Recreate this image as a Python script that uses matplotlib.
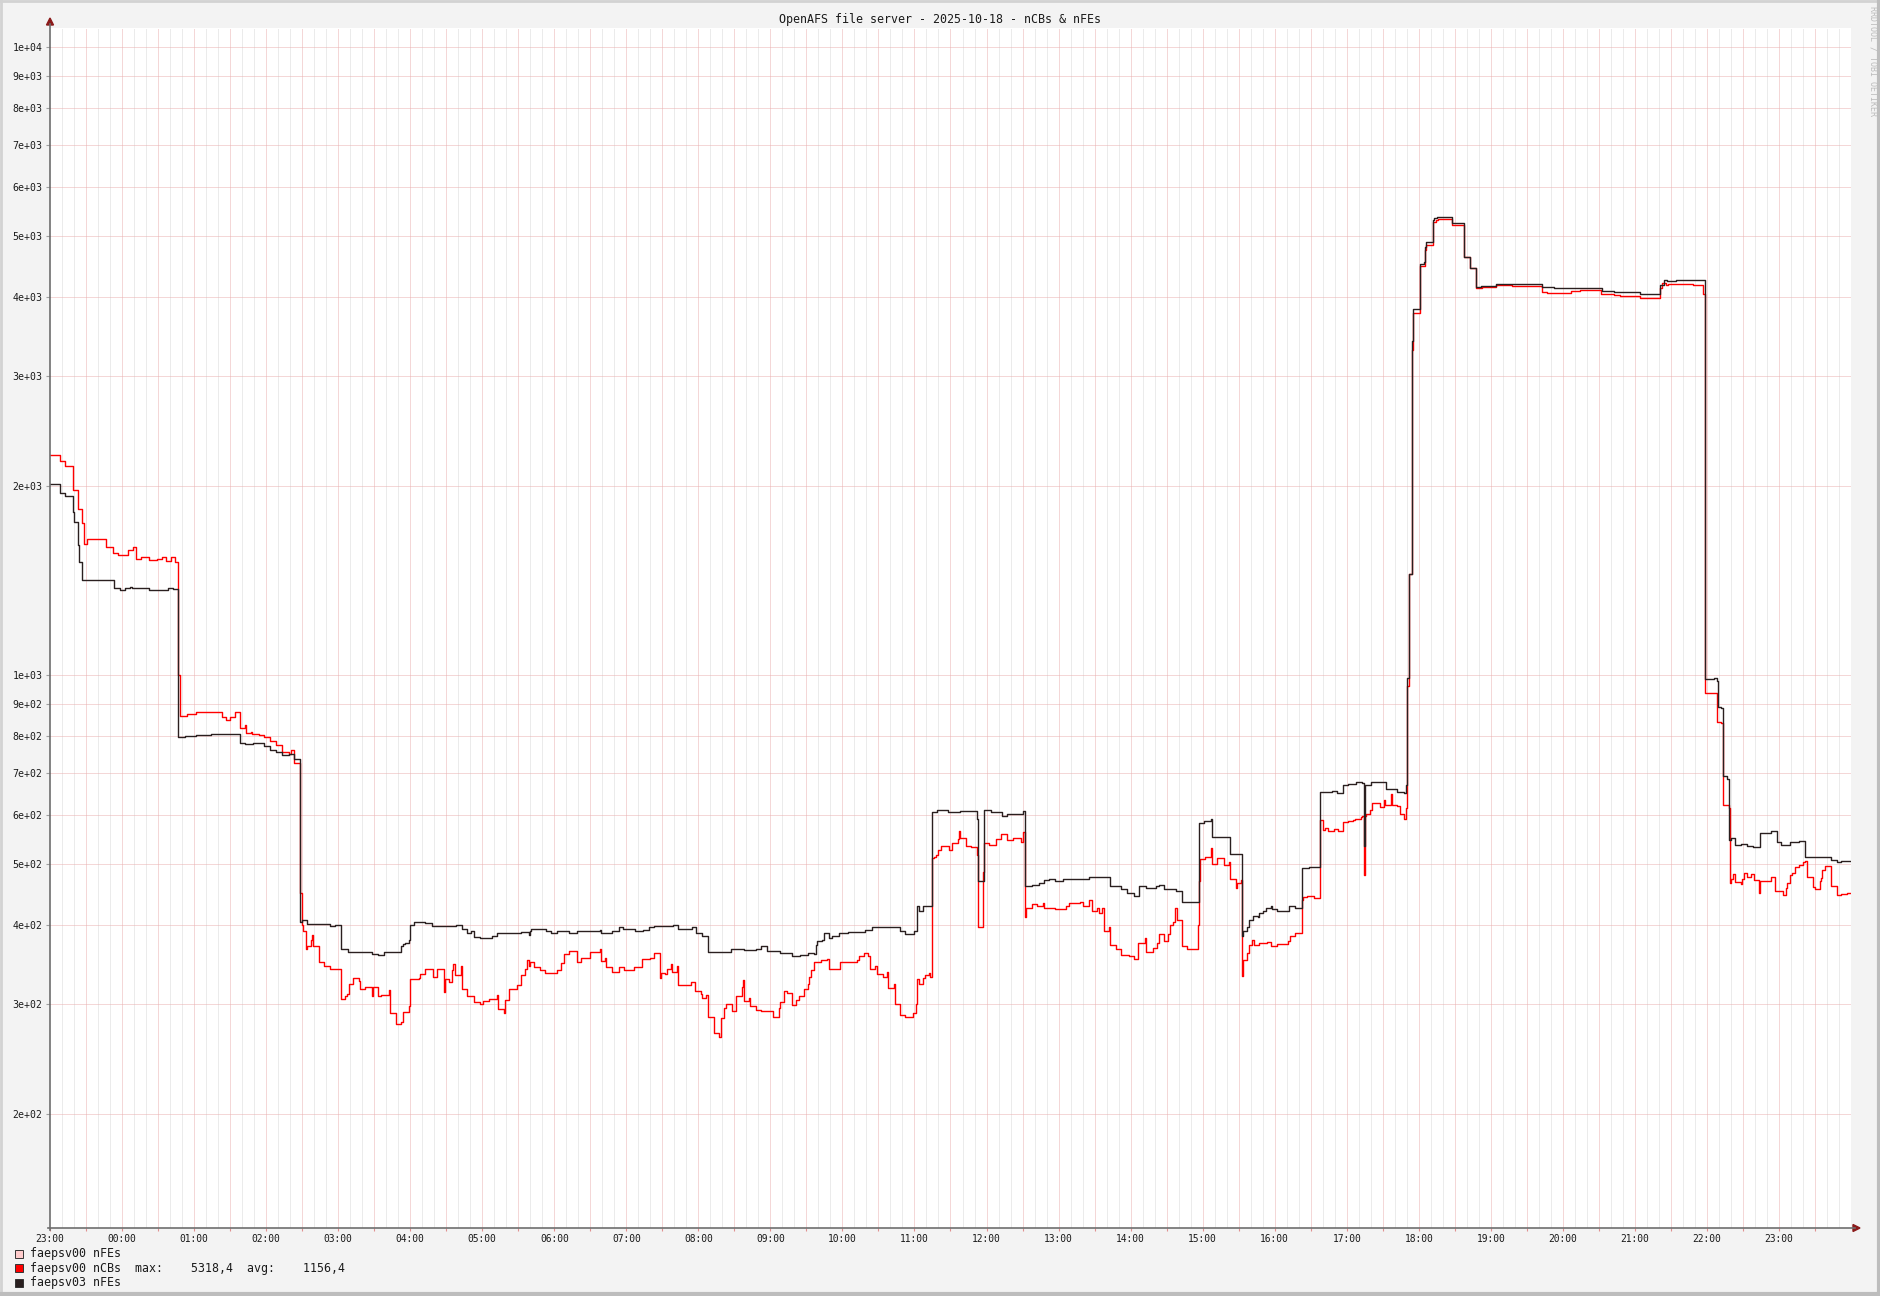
import matplotlib
matplotlib.use('Agg')
import matplotlib.pyplot as plt
from matplotlib.patches import Rectangle, Polygon
from matplotlib.lines import Line2D
import numpy as np

# ---------------- data (minutes after 23:00 of the previous day, value) ----------------
title = "OpenAFS file server - 2025-10-18 - nCBs & nFEs"

ncbs_sv00 = [(0,2240),(8,2195),(12.5,2153),(19,1972),(23.6,1840),(27,1748),(28,1617),(31,1646),(47,1602),
 (52.5,1566),(57,1555),(65,1582),(69,1600),(72,1530),(76,1545),(82.5,1526),(89,1532),(93,1545),(97,1522),
 (101,1545),(104,1513),(107,1000),(108,862),(114,867),(122,873),(129,875),(133,873),(143,857),(147,849),
 (150,857),(154,873),(158,823),(162,834),(163,808),(167,811),(168,806),(174,803),(178,798),(183,787),
 (188,775),(193,754),(199,749),(201,759),(203,724),(208,450),(210,400),(211,392),(213,366),(214,370),
 (217,379),(218,386),(219,371),(224,350),(228,344),(233,341),(242,305),(246,308),(247,311),(249,322),
 (252,329),(257,326),(258,316),(262,319),(268,309),(269,319),(273,308),(276,310),(282,315),(283,290),
 (288,278),(292,281),(294,291),(299,297),(300,328),(307,330),(308,334),(312,341),(319,331),(322,341),
 (328,313),(329,328),(332,325),(335,340),(336,347),(337,333),(342,345),(343,317),(347,308),(353,302),
 (358,300),(361,303),(366,305),(372,310),(373,294),(378,290),(379,304),(382,317),(389,321),(392,333),
 (396,341),(397,352),(399,345),(400,349),(403,343),(408,340),(412,336),(422,340),(426,348),(428,360),
 (432,364),(439,350),(442,355),(450,363),(458,367),(459,351),(462,355),(463,343),(468,337),(474,343),
 (478,340),(486,343),(493,354),(500,355),(503,361),(508,329),(509,336),(512,334),(514,341),(517,347),
 (518,337),(522,345),(523,321),(534,325),(537,314),(542,311),(543,306),(546,310),(548,286),(553,269),
 (557,265),(559,285),(561,295),(563,300),(568,292),(571,309),(576,319),(577,327),(578,303),(582,306),
 (583,297),(588,293),(592,292),(602,286),(607,295),(608,302),(611,314),(614,312),(618,299),(621,304),
 (624,308),(628,317),(631,323),(632,331),(634,340),(636,349),(639,350),(642,352),(647,354),(649,341),
 (658,350),(672,352),(674,357),(678,361),(681,357),(683,341),(687,345),(689,334),(694,331),(697,337),
 (698,318),(703,323),(704,300),(708,288),(712,286),(719,290),(721,300),(722,328),(724,322),(727,329),
 (729,333),(732,336),(733,331),(735,511),(736,514),(738,517),(740,527),(742,535),(749,526),(751,540),
 (756,548),(757,565),(758,550),(763,535),(767,533),(772,517),(773,398),(777,487),(778,540),(782,537),
 (788,548),(792,558),(797,546),(802,550),(809,542),(810,562),(812,412),(813,426),(818,432),(822,429),
 (827,434),(828,426),(837,424),(846,429),(849,434),(858,436),(860,429),(865,438),(868,421),(872,426),
 (874,418),(876,426),(878,391),(882,398),(883,372),(888,367),(892,359),(899,357),(903,353),(906,375),
 (912,382),(913,363),(919,368),(922,375),(924,387),(928,378),(931,387),(933,400),(935,405),(937,426),
 (939,408),(943,371),(947,366),(956,400),(957,470),(958,509),(962,514),(967,530),(968,500),(972,511),
 (978,499),(982,504),(983,474),(988,458),(989,467),(992,472),(993,332),(994,352),(997,361),(999,372),
 (1001,379),(1003,372),(1007,375),(1014,376),(1017,370),(1022,374),(1031,378),(1033,385),(1037,389),
 (1043,438),(1044,443),(1047,445),(1053,442),(1058,588),(1060,567),(1062,572),(1064,566),(1069,569),
 (1073,564),(1077,583),(1081,586),(1085,588),(1087,591),(1092,594),(1093,597),(1094,480),(1095,596),
 (1096,601),(1099,610),(1101,625),(1104,627),(1108,618),(1111,633),(1112,622),(1117,647),(1118,622),
 (1122,620),(1124,602),(1128,591),(1129,614),(1130,960),(1132,1450),(1134,3300),(1135,3773),(1141,4480),
 (1145,4750),(1146,4840),(1152,5265),(1154,5310),(1156,5318),(1168,5210),(1178,4634),(1183,4448),
 (1188,4135),(1193,4150),(1204,4180),(1218,4160),(1243,4080),(1247,4060),(1267,4085),(1274,4100),
 (1282,4110),(1292,4045),(1303,4030),(1308,4015),(1324,3990),(1341,4130),(1343,4215),(1346,4175),
 (1348,4200),(1368,4185),(1377,4045),(1378,938),(1388,844),(1392,839),(1393,622),(1398,614),(1399,467),
 (1400,474),(1402,483),(1403,468),(1408,465),(1409,474),(1411,485),(1413,478),(1417,483),(1419,472),
 (1423,450),(1424,471),(1433,477),(1437,453),(1443,447),(1446,458),(1447,467),(1449,481),(1451,485),
 (1453,495),(1457,499),(1460,504),(1462,506),(1463,477),(1468,460),(1470,456),(1474,471),(1475,475),
 (1476,490),(1478,497),(1483,462),(1488,447),(1492,449),(1497,450)]

nfes_sv03 = [(0,2017),(8,1948),(12.5,1930),(19,1820),(20,1757),(23.6,1612),(24.5,1517),(27,1418),(53,1378),
 (58,1366),(62.5,1376),(67,1382),(68,1377),(82.5,1366),(98.5,1377),(102.5,1370),(107,796),(112.5,800),
 (122,804),(134,806),(158,779),(162.5,777),(169,781),(172,780),(178,772),(183,759),(186,761),(188,754),
 (193,746),(199,749),(203,737),(208,405),(210,408),(214,402),(233,399),(237.5,401),(242,366),(248,363),
 (253,362),(268,360),(273,358),(278,363),(292,370),(294,373),(296,375),(299,379),(300,400),(303,405),
 (307,404),(312,403),(318,399),(338,401),(343,394),(347,389),(351,391),(353,383),(358,382),(368,384),
 (372,389),(392,390),(399,386),(400,391),(401,394),(413,391),(417,389),(422,391),(432,389),(439,391),
 (458,393),(459,389),(468,391),(474,397),(477,395),(487,392),(494,393),(499,397),(503,399),(519,400),
 (523,394),(535,398),(538,389),(543,385),(548,363),(557,362),(567,367),(578,365),(588,367),(592,370),
 (597,364),(608,361),(618,357),(625,358),(631,361),(636,360),(638,372),(639,377),(643,379),(645,389),
 (649,382),(651,385),(657,389),(665,390),(679,393),(685,398),(708,391),(712,387),(720,391),(722,429),
 (724,422),(727,429),(735,606),(739,610),(748,605),(758,608),(772,590),(773,470),(778,610),(784,606),
 (793,596),(797,602),(810,608),(812,462),(818,464),(824,467),(828,472),(832,474),(837,470),(844,474),
 (865,477),(883,461),(892,456),(897,450),(903,445),(907,462),(913,458),(921,461),(924,463),(928,456),
 (938,453),(943,435),(957,581),(961,586),(967,590),(968,553),(973,552),(983,520),(993,385),(994,391),
 (997,398),(999,408),(1002,414),(1006,412),(1007,418),(1010,422),(1013,426),(1017,429),(1018,424),
 (1022,421),(1032,429),(1037,426),(1043,493),(1049,495),(1058,653),(1068,655),(1072,649),(1077,669),
 (1081,671),(1088,675),(1093,673),(1094,534),(1095,669),(1100,676),(1113,658),(1122,653),(1128,649),
 (1129,669),(1130,990),(1132,1450),(1134,3400),(1135,3829),(1141,4515),(1144,4554),(1145,4812),
 (1146,4900),(1152,5300),(1153,5350),(1155,5370),(1168,5245),(1178,4634),(1183,4448),(1188,4145),
 (1192,4160),(1204,4197),(1243,4145),(1253,4135),(1293,4095),(1303,4080),(1324,4045),(1341,4175),
 (1344,4255),(1347,4245),(1354,4255),(1378,985),(1386,989),(1388,980),(1389,891),(1392,888),(1393,692),
 (1397,683),(1398,547),(1400,550),(1403,537),(1408,539),(1413,535),(1418,532),(1424,561),(1433,566),
 (1438,543),(1442,537),(1449,543),(1457,544),(1462,513),(1483,508),(1488,504),(1492,506),(1497,506)]

end_minute = 1499
hour_labels = ["23:00","00:00","01:00","02:00","03:00","04:00","05:00","06:00","07:00","08:00",
               "09:00","10:00","11:00","12:00","13:00","14:00","15:00","16:00","17:00","18:00",
               "19:00","20:00","21:00","22:00","23:00"]
y_grid_values = [200,300,400,500,600,700,800,900,1000,2000,3000,4000,5000,6000,7000,8000,9000,10000]
legend_rows = [("faepsv00 nFEs", "#ffcccc"),
               ("faepsv00 nCBs  max:    5318,4  avg:    1156,4", "#ff0000"),
               ("faepsv03 nFEs", "#2a1f1f")]

# ---------------- figure ----------------
MONO = 'DejaVu Sans Mono'
W, H = 1881, 1296
fig = plt.figure(figsize=(W/100, H/100), dpi=100, facecolor='#f3f3f3')
L, R, T, B = 50, 1851, 28, 1228
ax = fig.add_axes([L/W, 1-B/H, (R-L)/W, (B-T)/H])
ax.set_facecolor('white')
ax.set_yscale('log')
ax.set_xlim(0, 1500)
ax.set_ylim(131.8, 10730)

def fx(x): return x / W
def fy(y): return 1 - y / H

# grid
for m in range(10, 1500, 10):
    if m % 30 == 0:
        ax.axvline(m, color='#eab0b0', lw=0.72, ls=(0, (1, 1)), zorder=1)
    else:
        ax.axvline(m, color='#d8d8d8', lw=0.72, ls=(0, (1, 1)), zorder=0.5)
for v in y_grid_values:
    ax.axhline(v, color='#eab0b0', lw=0.72, ls=(0, (1, 1)), zorder=1)

# series
def step_series(pairs):
    t = [p[0] for p in pairs] + [end_minute]
    v = [p[1] for p in pairs] + [pairs[-1][1]]
    return t, v

t, v = step_series(ncbs_sv00)
ax.plot(t, v, drawstyle='steps-post', color='#ff0000', lw=1.0, zorder=3)
t, v = step_series(nfes_sv03)
ax.plot(t, v, drawstyle='steps-post', color='#2a1f1f', lw=1.0, zorder=4)

# ticks
ax.set_yticks(y_grid_values)
ax.set_yticklabels([f"{v:.0e}" for v in y_grid_values], family=MONO, fontsize=7.1, color='#1a1a1a')
ax.yaxis.set_minor_locator(matplotlib.ticker.NullLocator())
ax.tick_params(axis='y', length=3, width=0.8, color='#a0a0a0', pad=2.2)
ax.set_xticks(range(0, 1441, 60))
ax.set_xticklabels(hour_labels, family=MONO, fontsize=6.9, color='#1a1a1a')
ax.set_xticks(range(30, 1500, 60), minor=True)
ax.tick_params(axis='x', which='both', length=2, width=0.8, color='#e09090', pad=2.5)
for s in ax.spines.values():
    s.set_visible(False)

# axes with arrows
axis_col = '#6e6e6e'
fig.add_artist(Line2D([fx(L), fx(L)], [fy(B + 2), fy(24)], color=axis_col, lw=1.2))
fig.add_artist(Line2D([fx(L - 2), fx(1855)], [fy(B), fy(B)], color=axis_col, lw=1.2))
fig.add_artist(Polygon([[fx(L), fy(18)], [fx(L - 3.5), fy(25)], [fx(L + 3.5), fy(25)]],
                       closed=True, color='#8b1a1a', transform=fig.transFigure))
fig.add_artist(Polygon([[fx(1860), fy(B)], [fx(1853), fy(B - 3.5)], [fx(1853), fy(B + 3.5)]],
                       closed=True, color='#8b1a1a', transform=fig.transFigure))

# title and watermark
fig.text(fx(940), fy(19.5), title, ha='center', va='center', family=MONO, fontsize=8.4, color='#1a1a1a')
fig.text(fx(1873), fy(6), "RRDTOOL / TOBI OETIKER", rotation=270, ha='center', va='top',
         family=MONO, fontsize=6.0, color='#bcbcbc')

# legend
for i, (label, col) in enumerate(legend_rows):
    yc = 1253.5 + i * 14.6
    fig.add_artist(Rectangle((fx(15.5), fy(yc + 4)), 7.5 / W, 8 / H, transform=fig.transFigure,
                             facecolor=col, edgecolor='#333333', lw=0.7))
    fig.text(fx(30.5), fy(yc), label, ha='left', va='center', family=MONO, fontsize=8.4, color='#1a1a1a')

# frame
fig.add_artist(Line2D([0, 1], [1 - 1/H, 1 - 1/H], color='#d2d2d2', lw=2))
fig.add_artist(Line2D([1/W, 1/W], [0, 1], color='#d2d2d2', lw=2))
fig.add_artist(Line2D([0, 1], [2/H, 2/H], color='#bdbdbd', lw=3))
fig.add_artist(Line2D([1 - 1.5/W, 1 - 1.5/W], [0, 1], color='#bdbdbd', lw=3))

fig.savefig('out.png', dpi=100, facecolor=fig.get_facecolor())
